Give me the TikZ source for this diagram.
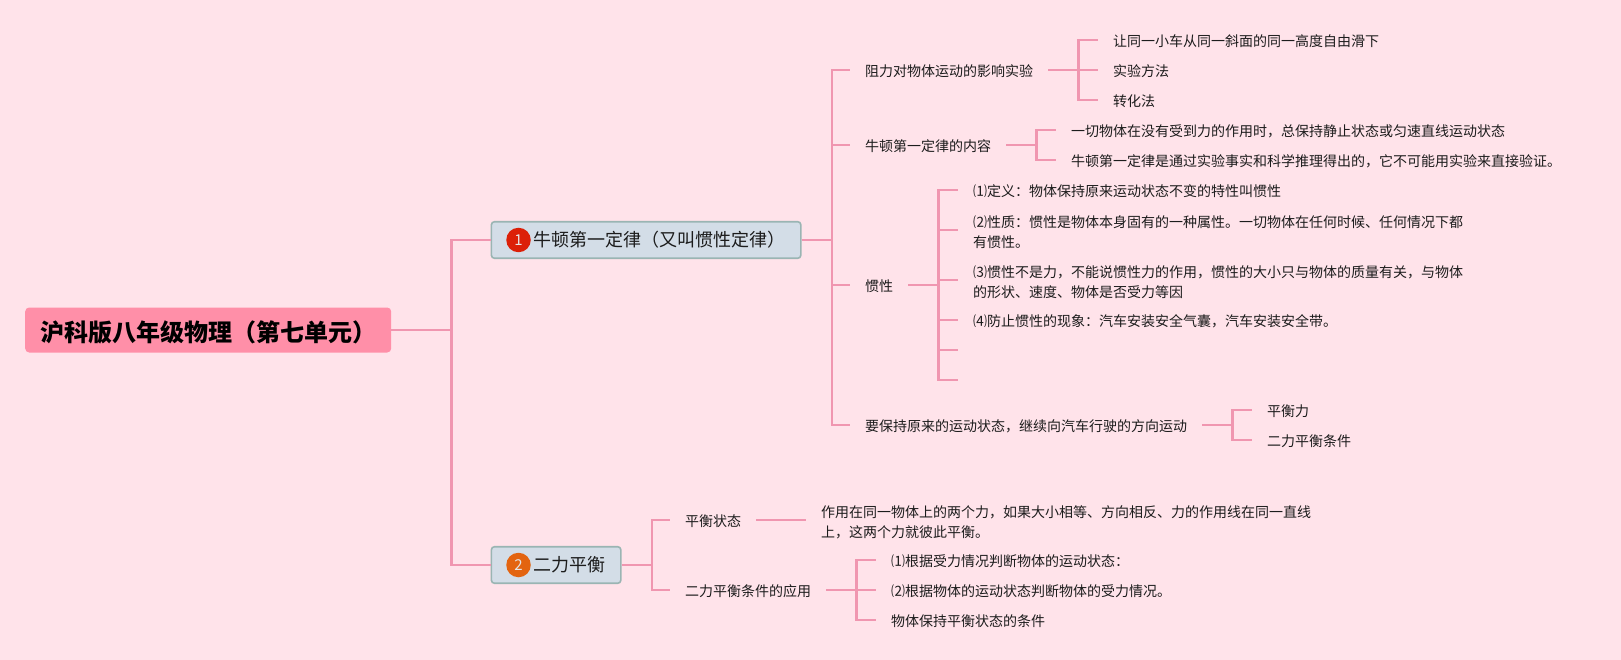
\documentclass[tikz,border=0pt]{standalone}
\usepackage{fontspec}
\setmainfont{Noto Sans CJK SC}
\usetikzlibrary{positioning}
\definecolor{pagebg}{HTML}{FFE3EA}
\definecolor{linkpink}{HTML}{F096B0}
\definecolor{rootpink}{HTML}{FF8FA8}
\definecolor{boxfill}{HTML}{D3DDE7}
\definecolor{boxedge}{HTML}{9AB5B3}
\definecolor{inkdark}{HTML}{1C1C1C}
\definecolor{dotred}{HTML}{DC2008}
\definecolor{dotorange}{HTML}{E36410}
\newcommand\gapstub{30}
\newcommand\firstline{\rule{0pt}{17pt}}
\tikzset{
    link/.style = {draw = linkpink, line width = 2.2pt},
    elbow/.style = {to path = {-- ++(#1,0) |- (\tikztotarget)}},
    rootbox/.style = {anchor = west, fill = rootpink, rounded corners = 4pt,
        minimum width = 366pt, minimum height = 45pt, inner sep = 0pt, font = \fontsize{24}{28}\selectfont\bfseries, text = black,
        text height = 24pt, text depth = 2pt},
    topbox/.style = {anchor = west, fill = boxfill, draw = boxedge, line width = 1.6pt, rounded corners = 3pt,
        minimum height = 36.5pt, inner sep = 0pt},
    numdot/.style = {circle, inner sep = 0pt, minimum size = 24.5pt, text = white!90!black, font = \fontsize{15}{18}\selectfont},
    toplabel/.style = {inner sep = 0pt, font = \fontsize{18}{22}\selectfont, text = inkdark},
    leaf/.style = {anchor = west, inner xsep = 15pt, inner ysep = 0pt, font = \fontsize{14}{20}\selectfont, text = inkdark,
        text height = 14.5pt, text depth = 1.5pt},
    longleaf/.style = {anchor = west, inner xsep = 15pt, inner ysep = 0pt, font = \fontsize{14}{20}\selectfont, text = inkdark, align = left},
}
\begin{document}
\begin{tikzpicture}[x=1pt, y=-1pt]
    \fill[pagebg] (0,0) rectangle (1621,660);
    \useasboundingbox (0,0) rectangle (1621,660);
    % --- Root and the two main topics
    \node[rootbox] (root) at (25,330) {沪科版八年级物理（第七单元）};
    \node[topbox, minimum width = 309.4pt] (boxa) at (490.6,240) {};
    \node[numdot, fill = dotred] (dota) at (518.5,240) {1};
    \node[toplabel, right = 2pt of dota] (labela) {牛顿第一定律（又叫惯性定律）};
    \node[topbox, minimum width = 129.4pt] (boxb) at (490.6,565) {};
    \node[numdot, fill = dotorange] (dotb) at (518.5,565) {2};
    \node[toplabel, right = 2pt of dotb] (labelb) {二力平衡};
    % --- First topic
    \node[leaf] (fa) at (850,70) {阻力对物体运动的影响实验};
    \node[leaf] (faa) at (1098,40) {让同一小车从同一斜面的同一高度自由滑下};
    \node[leaf] (fab) at (1098,70) {实验方法};
    \node[leaf] (fac) at (1098,100) {转化法};
    \node[leaf] (fb) at (850,145) {牛顿第一定律的内容};
    \node[leaf] (fba) at (1056,130) {一切物体在没有受到力的作用时，总保持静止状态或匀速直线运动状态};
    \node[leaf] (fbb) at (1056,160) {牛顿第一定律是通过实验事实和科学推理得出的，它不可能用实验来直接验证。};
    \node[leaf] (fc) at (850,285) {惯性};
    \node[leaf] (fca) at (958,190) {⑴定义：物体保持原来运动状态不变的特性叫惯性};
    \node[longleaf] (fcb) at (958,230) {\firstline{}⑵性质：惯性是物体本身固有的一种属性。一切物体在任何时候、任何情况下都\\有惯性。};
    \node[longleaf] (fcc) at (958,280) {\firstline{}⑶惯性不是力，不能说惯性力的作用，惯性的大小只与物体的质量有关，与物体\\的形状、速度、物体是否受力等因};
    \node[leaf] (fcd) at (958,320) {⑷防止惯性的现象：汽车安装安全气囊，汽车安装安全带。};
    \coordinate (fce) at (958,350);
    \coordinate (fcf) at (958,380);
    \node[leaf] (fd) at (850,425) {要保持原来的运动状态，继续向汽车行驶的方向运动};
    \node[leaf] (fda) at (1252,410) {平衡力};
    \node[leaf] (fdb) at (1252,440) {二力平衡条件};
    % --- Second topic
    \node[leaf] (sa) at (670,520) {平衡状态};
    \node[longleaf] (saa) at (806,520) {\firstline{}作用在同一物体上的两个力，如果大小相等、方向相反、力的作用线在同一直线\\上，这两个力就彼此平衡。};
    \node[leaf] (sb) at (670,590) {二力平衡条件的应用};
    \node[leaf] (sba) at (876,560) {⑴根据受力情况判断物体的运动状态：};
    \node[leaf] (sbb) at (876,590) {⑵根据物体的运动状态判断物体的受力情况。};
    \node[leaf] (sbc) at (876,620) {物体保持平衡状态的条件};
    % --- Links
    \foreach \kid in {boxa,boxb}
        \draw[link, elbow=60] (root.east) to (\kid.west);
    \foreach \kid in {fa,fb,fc,fd}
        \draw[link, elbow=\gapstub] (boxa.east) to (\kid.west);
    \foreach \kid in {faa,fab,fac}
        \draw[link, elbow=\gapstub] (fa.east) to (\kid.west);
    \foreach \kid in {fba,fbb}
        \draw[link, elbow=\gapstub] (fb.east) to (\kid.west);
    \foreach \kid in {fca.west,fcb.west,fcc.west,fcd.west,fce,fcf}
        \draw[link, elbow=\gapstub] (fc.east) to (\kid);
    \foreach \kid in {fda,fdb}
        \draw[link, elbow=\gapstub] (fd.east) to (\kid.west);
    \foreach \kid in {sa,sb}
        \draw[link, elbow=\gapstub] (boxb.east) to (\kid.west);
    \draw[link] (sa.east) -- (saa.west);
    \foreach \kid in {sba,sbb,sbc}
        \draw[link, elbow=\gapstub] (sb.east) to (\kid.west);
\end{tikzpicture}
\end{document}
